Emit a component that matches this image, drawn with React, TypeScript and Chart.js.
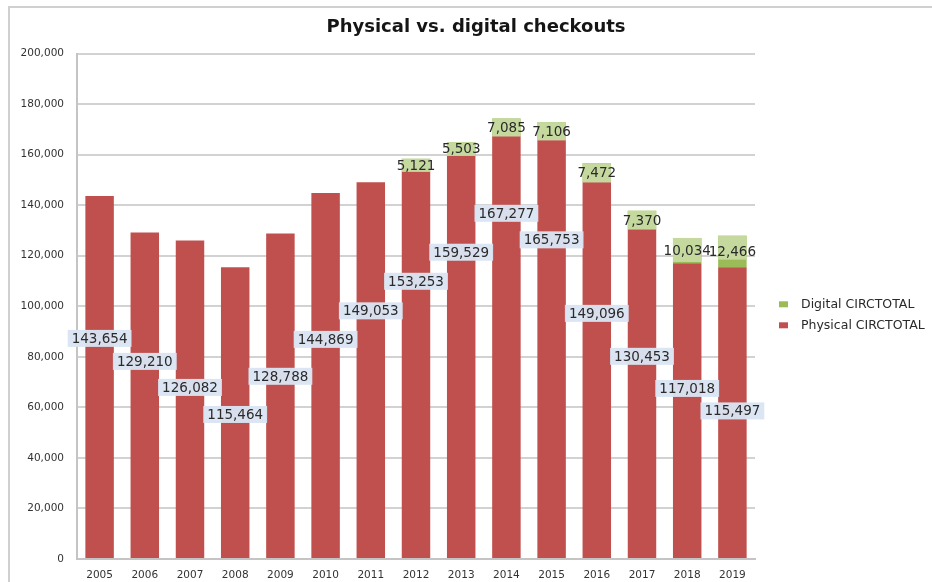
import React, { useEffect, useRef } from "react";
import { Chart, registerables } from "chart.js";

Chart.register(...registerables);

const years = ["2005", "2006", "2007", "2008", "2009", "2010", "2011", "2012", "2013", "2014", "2015", "2016", "2017", "2018", "2019"];
const physical = [143654, 129210, 126082, 115464, 128788, 144869, 149053, 153253, 159529, 167277, 165753, 149096, 130453, 117018, 115497];
const digital: (number | null)[] = [null, null, null, null, null, null, null, 5121, 5503, 7085, 7106, 7472, 7370, 10034, 12466];
// height (in axis units) at which each physical value label sits
const physicalLabelAt = [87300, 78200, 67900, 57200, 72300, 86900, 98200, 109900, 121400, 136800, 126300, 97200, 80200, 67500, 58600];
const yMax = 200000;
const yStep = 20000;
const seriesNames = ["Physical CIRCTOTAL", "Digital CIRCTOTAL"];

const FONT = "'DejaVu Sans', sans-serif";
const PHYS_COLOR = "#c0504d";
const DIG_COLOR = "#9bbb59";
const fmt = (v: number) => Math.round(v).toLocaleString("en-US");

const valueLabels = {
  id: "valueLabels",
  afterDatasetsDraw(chart: any) {
    const ctx = chart.ctx;
    const ys = chart.scales.y;
    ctx.save();
    ctx.font = `13.5px ${FONT}`;
    ctx.textAlign = "center";
    ctx.textBaseline = "middle";
    const dm = chart.getDatasetMeta(1);
    dm.data.forEach((bar: any, i: number) => {
      const v = digital[i];
      if (v == null) return;
      const p = bar.getProps(["x", "y", "base", "width"], true);
      const top = Math.min(p.y, p.base);
      const bottom = Math.max(p.y, p.base);
      const h = Math.min(bottom - top, 24);
      ctx.fillStyle = "#c5d99f";
      ctx.fillRect(p.x - p.width / 2, top, p.width, h);
      ctx.fillStyle = "#2a2a2a";
      ctx.fillText(fmt(v), p.x, (top + bottom) / 2 + 1);
    });
    const pm = chart.getDatasetMeta(0);
    pm.data.forEach((bar: any, i: number) => {
      const text = fmt(physical[i]);
      const ly = ys.getPixelForValue(physicalLabelAt[i]);
      const w = ctx.measureText(text).width + 8;
      const h = 17;
      ctx.fillStyle = "rgba(218,228,243,0.96)";
      ctx.fillRect(bar.x - w / 2, ly - h / 2, w, h);
      ctx.fillStyle = "#2a2a2a";
      ctx.fillText(text, bar.x, ly + 1);
    });
    ctx.restore();
  },
};

const sideLegend = {
  id: "sideLegend",
  afterDraw(chart: any) {
    const ctx = chart.ctx;
    const area = chart.chartArea;
    const items = chart.data.datasets
      .map((d: any) => ({ text: d.label, color: d.backgroundColor }))
      .reverse();
    const boxX = area.right + 24;
    const textX = boxX + 22;
    const lineH = 21;
    const startY = (area.top + area.bottom) / 2 - 2;
    ctx.save();
    ctx.font = `12.5px ${FONT}`;
    ctx.textAlign = "left";
    ctx.textBaseline = "middle";
    items.forEach((it: any, i: number) => {
      const cy = startY + i * lineH;
      ctx.fillStyle = it.color;
      ctx.fillRect(boxX, cy - 3, 9, 6);
      ctx.fillStyle = "#2a2a2a";
      ctx.fillText(it.text, textX, cy);
    });
    ctx.restore();
  },
};

export default function App() {
  const ref = useRef<HTMLCanvasElement | null>(null);

  useEffect(() => {
    if (!ref.current) return;
    const chart = new Chart(ref.current, {
      type: "bar",
      data: {
        labels: years,
        datasets: [
          {
            label: seriesNames[0],
            data: physical,
            backgroundColor: PHYS_COLOR,
            barPercentage: 0.63,
            categoryPercentage: 1,
          },
          {
            label: seriesNames[1],
            data: digital,
            backgroundColor: DIG_COLOR,
            barPercentage: 0.63,
            categoryPercentage: 1,
          },
        ],
      },
      options: {
        responsive: false,
        animation: false,
        devicePixelRatio: 1,
        layout: { padding: { left: 20, right: 0, top: 0, bottom: 0 } },
        plugins: {
          legend: { display: false },
          tooltip: { enabled: false },
          title: {
            display: true,
            text: "Physical vs. digital checkouts",
            color: "#151515",
            font: { family: FONT, size: 18, weight: "bold" },
            padding: { top: 17, bottom: 15 },
          },
        },
        scales: {
          x: {
            stacked: true,
            grid: { display: false },
            border: { display: true, color: "#c4c4c4", width: 2 },
            ticks: {
              color: "#333",
              font: { family: FONT, size: 10.5 },
              padding: 2,
              maxRotation: 0,
              autoSkip: false,
            },
            afterFit(s: any) {
              s.height = 23;
            },
          },
          y: {
            stacked: true,
            min: 0,
            max: yMax,
            grid: { color: "#d2d2d2", lineWidth: 2, drawTicks: false },
            border: { display: true, color: "#c4c4c4", width: 2 },
            ticks: {
              stepSize: yStep,
              color: "#333",
              font: { family: FONT, size: 10.5 },
              padding: 13,
              callback: (v: any) => fmt(Number(v)),
            },
            afterFit(s: any) {
              s.width = 57;
            },
          },
          legendSpace: {
            type: "linear",
            position: "right",
            display: true,
            grid: { display: false, drawTicks: false },
            border: { display: false },
            ticks: { display: false },
            afterFit(s: any) {
              s.width = 177;
            },
          },
        },
      } as any,
      plugins: [valueLabels, sideLegend],
    });
    return () => chart.destroy();
  }, []);

  return (
    <div style={{ position: "fixed", left: 0, top: 0, width: 932, height: 582, overflow: "hidden", background: "#fff" }}>
      <div
        style={{
          position: "absolute",
          left: 8,
          top: 6,
          width: 1000,
          height: 1000,
          border: "2px solid #d0d0d0",
          boxSizing: "border-box",
        }}
      />
      <canvas ref={ref} width={932} height={582} style={{ position: "absolute", left: 0, top: 0, width: 932, height: 582 }} />
    </div>
  );
}
